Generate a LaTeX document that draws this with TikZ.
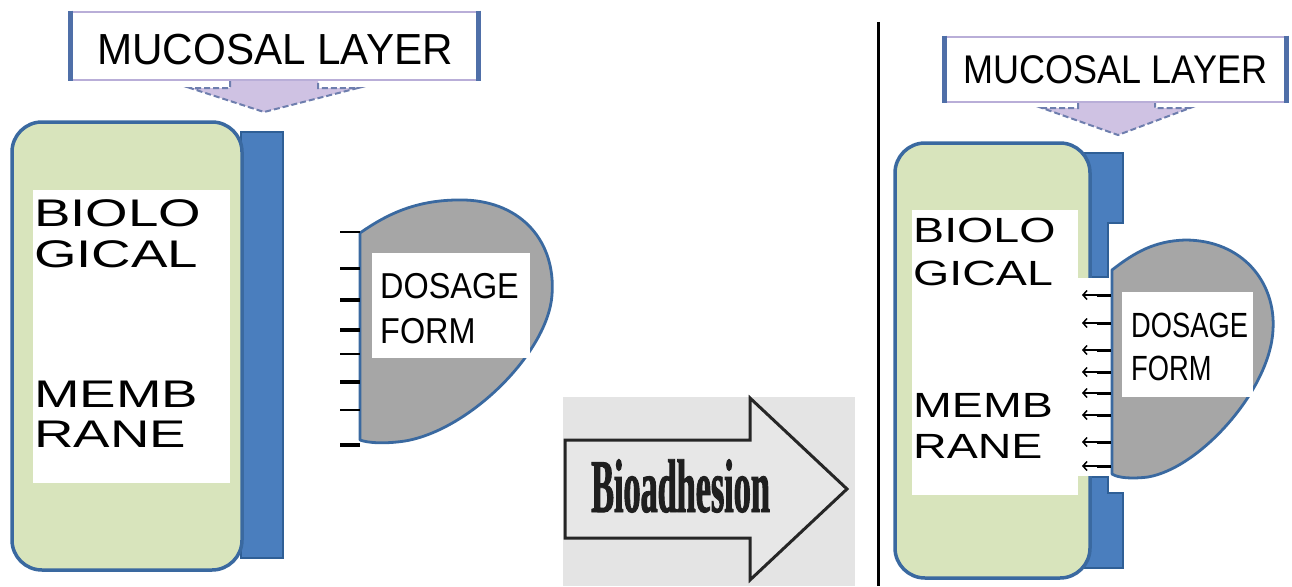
\documentclass[tikz,border=0pt]{standalone}
\usepackage{fontspec}
\setmainfont{Liberation Sans}
\newfontfamily\mucfontL[FakeStretch=0.97]{Liberation Sans}
\newfontfamily\mucfontR[FakeStretch=0.9]{Liberation Sans}
\newfontfamily\memfontL[FakeStretch=1.42]{Liberation Sans}
\newfontfamily\memfontR[FakeStretch=1.33]{Liberation Sans}
\newfontfamily\dosfontL[FakeStretch=0.9]{Liberation Sans}
\newfontfamily\dosfontR[FakeStretch=0.78]{Liberation Sans}
\newfontfamily\biofont[FakeStretch=0.45,FakeBold=1.2]{Liberation Serif}
\usetikzlibrary{arrows.meta}
\definecolor{memgreen}{HTML}{D8E4BC}
\definecolor{edgeblue}{HTML}{3A69A0}
\definecolor{barblue}{HTML}{4A7EBE}
\definecolor{bardark}{HTML}{2F5F96}
\definecolor{dosgray}{HTML}{A6A6A6}
\definecolor{lav}{HTML}{CFC2E3}
\definecolor{lavedge}{HTML}{6E7EAE}
\definecolor{boxedge}{HTML}{B9AED8}
\definecolor{boxside}{HTML}{4F6FA8}
\definecolor{biobg}{HTML}{E4E4E4}
\tikzset{
  txt/.style={anchor=base west, inner sep=0pt, text=black},
  membrane/.style={draw=edgeblue, line width=3.5pt, fill=memgreen, rounded corners=30pt},
  whitebox/.style={fill=white, draw=none},
  barstyle/.style={fill=barblue, draw=bardark, line width=1.2pt},
  dosage/.style={fill=dosgray, draw=edgeblue, line width=2.8pt, line join=round},
  mucbox/.style={fill=white, draw=boxedge, line width=2.5pt, inner sep=0pt},
  mucside/.style={draw=boxside, line width=5pt},
  mucarrow/.style={fill=lav, draw=lavedge, line width=2pt, dash pattern=on 6pt off 3pt},
  tick/.style={draw=black, line width=3pt},
  adh/.style={draw=black, line width=1.5pt, -{Straight Barb[length=4pt,width=9pt]}},
}
\begin{document}
\begin{tikzpicture}[x=1pt,y=-1pt]
\useasboundingbox (0,0) rectangle (1292,586);
\fill[white] (0,0) rectangle (1292,586);

% ================= LEFT PANEL =================
\node[mucbox, minimum width=405pt, minimum height=68pt] (mucL) at (274.5,46) {};
\draw[mucside] (mucL.north west) -- (mucL.south west);
\draw[mucside] (mucL.north east) -- (mucL.south east);
\node[anchor=base, inner sep=0pt, font={\mucfontL\fontsize{43.5}{45}\selectfont}] (mucLt) at (275,65) {MUCOSAL LAYER};
\draw[mucarrow] (230,81) -- (230,88) -- (190,88) -- (264,112) -- (358,88) -- (318,88) -- (318,81);

\draw[barstyle] (241,132) rectangle (283,558);
\draw[membrane] (12,122) rectangle (242,570);
\node[whitebox, minimum width=197pt, minimum height=293pt, inner sep=0pt] (memLw) at (131.5,336.5) {};
\node[txt, font={\memfontL\fontsize{38.5}{40}\selectfont}] (bL1) at (34,226) {BIOLO};
\node[txt, font={\memfontL\fontsize{38.5}{40}\selectfont}] (bL2) at (34,267) {GICAL};
\node[txt, font={\memfontL\fontsize{38.5}{40}\selectfont}] (bL3) at (34,407) {MEMB};
\node[txt, font={\memfontL\fontsize{38.5}{40}\selectfont}] (bL4) at (34,447) {RANE};

\draw[dosage] (360,233) .. controls (390,212) and (420,199) .. (465,200)
  .. controls (522,202) and (556,242) .. (552,295)
  .. controls (548,352) and (470,430) .. (405,441)
  .. controls (385,444) and (368,443) .. (360,440) -- cycle;
\node[whitebox, minimum width=158pt, minimum height=105pt, inner sep=0pt] (dosLw) at (451,305.5) {};
\node[txt, font={\dosfontL\fontsize{36}{38}\selectfont}] (dL1) at (380,298) {DOSAGE};
\node[txt, font={\dosfontL\fontsize{36}{38}\selectfont}] (dL2) at (380,343) {FORM};
\foreach \yy/\w [count=\i] in {232/2.4,268/3,300/3.6,330/3.2,354/2.4,382/3.2,410/2.4,445/3.6}{
  \coordinate (tA\i) at (340,\yy);
  \coordinate (tB\i) at (360,\yy);
  \draw[tick, line width=\w pt] (tA\i) -- (tB\i);
}

% ================= CENTER =================
\fill[biobg] (563,397) rectangle (855,586);
\draw[draw=black!85, line width=3pt, fill=biobg!90!white, line join=miter]
  (565,440) -- (750,440) -- (750,398) -- (847,489) -- (750,580) -- (750,538) -- (565,538) -- cycle;
\node[txt, text=black!88, font={\biofont\bfseries\fontsize{76}{78}\selectfont}] (bioad) at (591,512) {Bioadhesion};

\coordinate (sepT) at (878,22);
\coordinate (sepB) at (878,586);
\draw[line width=3pt] (sepT) -- (sepB);

% ================= RIGHT PANEL =================
\node[mucbox, minimum width=339pt, minimum height=65pt] (mucR) at (1115.5,69.5) {};
\draw[mucside] (mucR.north west) -- (mucR.south west);
\draw[mucside] (mucR.north east) -- (mucR.south east);
\node[anchor=base, inner sep=0pt, font={\mucfontR\fontsize{40}{42}\selectfont}] (mucRt) at (1115.5,83) {MUCOSAL LAYER};
\draw[mucarrow] (1078,103) -- (1078,108) -- (1042,108) -- (1118,135) -- (1190,108) -- (1155,108) -- (1155,103);

\draw[barstyle] (1080,153) -- (1123,153) -- (1123,223) -- (1108,223) -- (1108,277) -- (1080,277) -- cycle;
\draw[barstyle] (1080,477) -- (1108,477) -- (1108,493) -- (1123,493) -- (1123,568) -- (1080,568) -- cycle;
\draw[membrane] (895,143) rectangle (1090,578);
\node[whitebox, minimum width=166pt, minimum height=285pt, inner sep=0pt] (memRw) at (995,352.5) {};
\fill[white] (1076,278) rectangle (1111,476);
\node[txt, font={\memfontR\fontsize{35}{37}\selectfont}] (bR1) at (913,242) {BIOLO};
\node[txt, font={\memfontR\fontsize{35}{37}\selectfont}] (bR2) at (913,285) {GICAL};
\node[txt, font={\memfontR\fontsize{35}{37}\selectfont}] (bR3) at (913,417) {MEMB};
\node[txt, font={\memfontR\fontsize{35}{37}\selectfont}] (bR4) at (913,458) {RANE};

\draw[dosage] (1112,270) .. controls (1135,252) and (1155,241) .. (1185,240)
  .. controls (1242,240) and (1276,282) .. (1273,330)
  .. controls (1270,390) and (1200,468) .. (1148,477)
  .. controls (1132,479) and (1118,478) .. (1112,474) -- cycle;
\node[whitebox, minimum width=131pt, minimum height=105pt, inner sep=0pt] (dosRw) at (1187.5,344.5) {};
\node[txt, font={\dosfontR\fontsize{35}{37}\selectfont}] (dR1) at (1131,337) {DOSAGE};
\node[txt, font={\dosfontR\fontsize{35}{37}\selectfont}] (dR2) at (1131,380) {FORM};

\foreach \yy [count=\i] in {295,323,350,372,393,415,442,466}{
  \coordinate (aS\i) at (1111,\yy);
  \coordinate (aM\i) at (1097,\yy);
  \coordinate (aE\i) at (1082,\yy);
  \draw[line width=3pt] (aS\i) -- (aM\i);
  \draw[adh] (aM\i) -- (aE\i);
}
\end{tikzpicture}
\end{document}
